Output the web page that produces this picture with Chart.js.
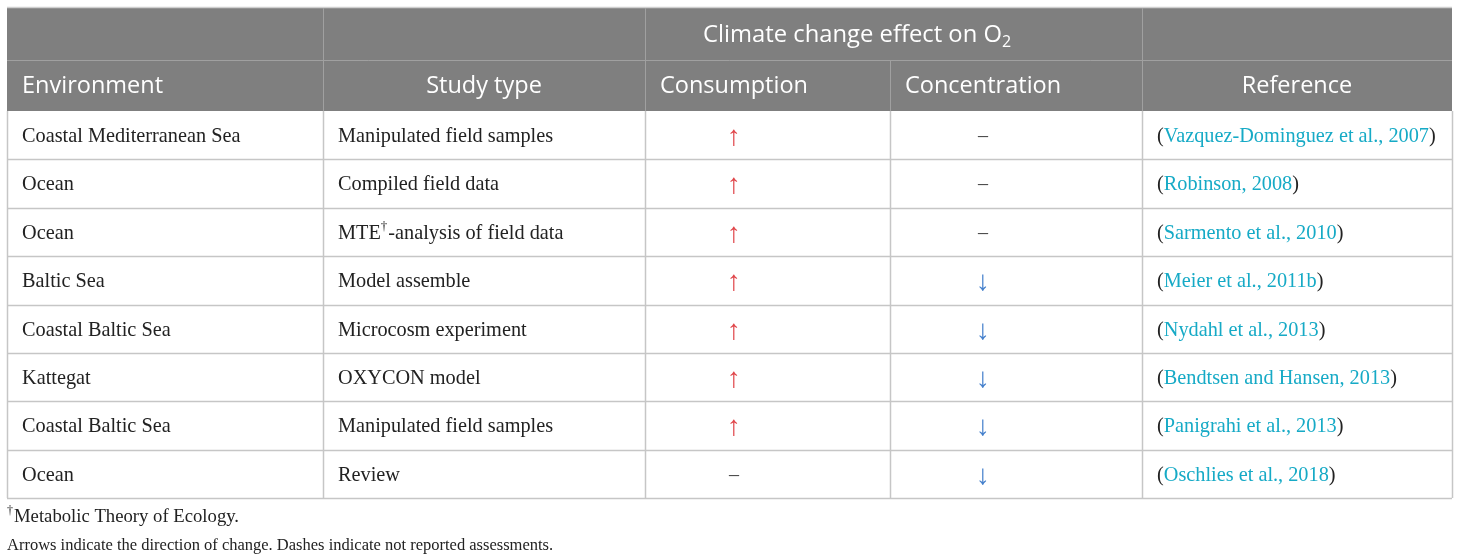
<!DOCTYPE html>
<html>
<head>
<meta charset="utf-8">
<script src="https://cdn.jsdelivr.net/npm/chart.js@4.4.1/dist/chart.umd.min.js"></script>
<style>
  body { margin: 0; background: #ffffff; }
  #tableChart { display: block; }
</style>
</head>
<body>
<canvas id="tableChart" width="1460" height="560"></canvas>
<script>
// Table content
const environments = ['Coastal Mediterranean Sea', 'Ocean', 'Ocean', 'Baltic Sea', 'Coastal Baltic Sea', 'Kattegat', 'Coastal Baltic Sea', 'Ocean'];
const studyTypes = ['Manipulated field samples', 'Compiled field data', 'MTE\u2020-analysis of field data', 'Model assemble', 'Microcosm experiment', 'OXYCON model', 'Manipulated field samples', 'Review'];
const consumption = ['up', 'up', 'up', 'up', 'up', 'up', 'up', 'none'];
const concentration = ['none', 'none', 'none', 'down', 'down', 'down', 'down', 'down'];
const references = ['Vazquez-Dominguez et al., 2007', 'Robinson, 2008', 'Sarmento et al., 2010', 'Meier et al., 2011b', 'Nydahl et al., 2013', 'Bendtsen and Hansen, 2013', 'Panigrahi et al., 2013', 'Oschlies et al., 2018'];
const columnHeaders = ['Environment', 'Study type', 'Consumption', 'Concentration', 'Reference'];
const groupHeader = 'Climate change effect on O';
const footnotes = ['\u2020Metabolic Theory of Ecology.', 'Arrows indicate the direction of change. Dashes indicate not reported assessments.'];

// Layout (pixels, relative to the table's left edge)
const colEdges = [0, 316, 638, 883, 1135, 1445];
const headerTop = 8;
const headerMid = 60;
const bodyTop = 111;
const bodyBottom = 498;

const sansFont = '"Open Sans", "Noto Sans", sans-serif';
const serifFont = '"Liberation Serif", "DejaVu Serif", serif';
const symbols = { up: '\u2191', down: '\u2193', none: '\u2013' };
const symbolColors = { up: '#e0464a', down: '#4580cc', none: '#444444' };

const tablePlugin = {
    id: 'tablePlugin',
    afterDraw(chart) {
        const ctx = chart.ctx;
        const xs = chart.scales.x;
        const ys = chart.scales.y;
        const area = chart.chartArea;
        const colX = i => xs.getPixelForValue(colEdges[i]);
        const left = colX(0), right = colX(colEdges.length - 1);
        const rowH = (area.bottom - area.top) / environments.length;

        ctx.save();
        // header background
        ctx.fillStyle = '#7f7f7f';
        ctx.fillRect(left, headerTop, right - left, area.top - headerTop);
        ctx.strokeStyle = '#cfcfcf';
        ctx.lineWidth = 1.5;
        ctx.beginPath();
        ctx.moveTo(left, headerTop - 0.5);
        ctx.lineTo(right, headerTop - 0.5);
        ctx.stroke();

        // header lines
        ctx.strokeStyle = '#a0a0a0';
        ctx.lineWidth = 1;
        ctx.beginPath();
        ctx.moveTo(left, headerMid + 0.5);
        ctx.lineTo(right, headerMid + 0.5);
        [1, 2, 4].forEach(i => {
            ctx.moveTo(Math.round(colX(i)) + 0.5, headerTop);
            ctx.lineTo(Math.round(colX(i)) + 0.5, area.top);
        });
        ctx.moveTo(Math.round(colX(3)) + 0.5, headerMid);
        ctx.lineTo(Math.round(colX(3)) + 0.5, area.top);
        ctx.stroke();

        // body grid
        ctx.strokeStyle = '#c6c6c6';
        ctx.lineWidth = 1.5;
        ctx.beginPath();
        for (let r = 1; r <= environments.length; r++) {
            const y = Math.round(area.top + r * rowH) + 0.5;
            ctx.moveTo(left, y);
            ctx.lineTo(right, y);
        }
        colEdges.forEach((e, i) => {
            const x = Math.round(colX(i)) + 0.5;
            ctx.moveTo(x, area.top);
            ctx.lineTo(x, area.bottom);
        });
        ctx.stroke();

        // header text
        ctx.fillStyle = '#ffffff';
        ctx.textBaseline = 'middle';
        ctx.font = '23.8px ' + sansFont;
        ctx.textAlign = 'left';
        const gx = colX(2) + 58;
        const gy = (headerTop + headerMid) / 2 + 1;
        const gw = ctx.measureText(groupHeader).width;
        ctx.fillText(groupHeader, gx, gy);
        ctx.font = '16px ' + sansFont;
        ctx.fillText('2', gx + gw, gy + 7);

        ctx.font = '23.5px ' + sansFont;
        const hy = (headerMid + area.top) / 2 + 1;
        const headerAlign = ['left', 'center', 'left', 'left', 'center'];
        const headerCenters = [];
        columnHeaders.forEach((h, i) => {
            ctx.textAlign = headerAlign[i];
            const x = headerAlign[i] === 'center' ? (colX(i) + colX(i + 1)) / 2 : colX(i) + 15;
            ctx.fillText(h, x, hy);
            headerCenters.push(headerAlign[i] === 'center' ? x : x + ctx.measureText(h).width / 2);
        });

        // body text
        const bodySize = '20.3px ';
        environments.forEach((env, r) => {
            const y = ys.getPixelForValue(r) + 1.5;
            ctx.font = bodySize + serifFont;
            ctx.fillStyle = '#222222';
            ctx.textAlign = 'left';
            ctx.fillText(env, colX(0) + 15, y);

            // study type with superscript dagger
            const parts = studyTypes[r].split('\u2020');
            let sx = colX(1) + 15;
            ctx.fillText(parts[0], sx, y);
            if (parts.length > 1) {
                sx += ctx.measureText(parts[0]).width;
                ctx.font = '13px ' + serifFont;
                ctx.fillText('\u2020', sx, y - 7);
                sx += ctx.measureText('\u2020').width + 1;
                ctx.font = bodySize + serifFont;
                ctx.fillText(parts[1], sx, y);
            }

            // arrows and dashes, centred under their header text
            ctx.textAlign = 'center';
            [[consumption, 2], [concentration, 3]].forEach(([vals, c]) => {
                const v = vals[r];
                ctx.font = (v === 'none' ? '20px ' : '28px ') + serifFont;
                ctx.fillStyle = symbolColors[v];
                ctx.fillText(symbols[v], headerCenters[c], y + (v === 'none' ? 0 : 1));
            });

            // reference: black brackets, cyan citation
            ctx.textAlign = 'left';
            ctx.font = bodySize + serifFont;
            let rx = colX(4) + 15;
            ctx.fillStyle = '#222222';
            ctx.fillText('(', rx, y);
            rx += ctx.measureText('(').width;
            ctx.fillStyle = '#16aac6';
            ctx.fillText(references[r], rx, y);
            rx += ctx.measureText(references[r]).width;
            ctx.fillStyle = '#222222';
            ctx.fillText(')', rx, y);
        });

        // footnotes
        ctx.fillStyle = '#222222';
        ctx.textAlign = 'left';
        footnotes.forEach((f, i) => {
            const fy = area.bottom + 19 + i * 29;
            if (f.startsWith('\u2020')) {
                ctx.font = '12px ' + serifFont;
                ctx.fillText('\u2020', left, fy - 6);
                const dw = ctx.measureText('\u2020').width;
                ctx.font = '18.7px ' + serifFont;
                ctx.fillText(f.slice(1), left + dw + 1, fy);
            } else {
                ctx.font = '16.5px ' + serifFont;
                ctx.fillText(f, left, fy);
            }
        });
        ctx.restore();
    }
};

new Chart(document.getElementById('tableChart'), {
    type: 'scatter',
    data: {
        labels: environments,
        datasets: [{ data: [] }]
    },
    options: {
        responsive: false,
        animation: false,
        events: [],
        layout: {
            padding: { top: bodyTop, bottom: 560 - bodyBottom, left: 7, right: 8 }
        },
        plugins: {
            legend: { display: false },
            tooltip: { enabled: false }
        },
        scales: {
            x: { type: 'linear', min: colEdges[0], max: colEdges[colEdges.length - 1], display: false },
            y: { type: 'category', labels: environments, offset: true, display: false }
        }
    },
    plugins: [tablePlugin]
});
</script>
</body>
</html>
